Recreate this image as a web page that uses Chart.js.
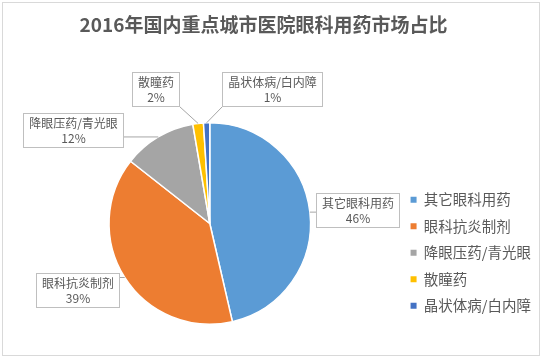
<!DOCTYPE html>
<html>
<head>
<meta charset="utf-8">
<script src="https://cdn.jsdelivr.net/npm/chart.js@4.4.1/dist/chart.umd.min.js"></script>
<style>
  body { margin: 0; background: #fff; }
  #myChart { display: block; }
</style>
</head>
<body>
<canvas id="myChart" width="542" height="359"></canvas>
<script>
const titleText = '2016年国内重点城市医院眼科用药市场占比';
const categories = ['其它眼科用药', '眼科抗炎制剂', '降眼压药/青光眼', '散瞳药', '晶状体病/白内障'];
const shares = [46.4, 39.2, 11.7, 1.7, 1.0];
const colors = ['#5B9BD5', '#ED7D31', '#A5A5A5', '#FFC000', '#4472C4'];

// where the callout boxes sit: turn away from the slice middle (deg) and distance in radii
const calloutTurn = [1.3, 5.8, -24.9, -15.5, 26.5];
const calloutDist = [1.47, 1.47, 1.64, 1.44, 1.47];

const fontFamily = '"Noto Sans CJK SC", "Noto Sans", sans-serif';
const textGrey = '#595959';


// white sheet, thin frame, and the title centred over the whole frame like Excel does
const frame = {
    id: 'frame',
    beforeDraw(chart) {
        const c = chart.ctx;
        c.save();
        c.fillStyle = '#fff';
        c.fillRect(0, 0, chart.width, chart.height);
        c.strokeStyle = '#D9D9D9';
        c.lineWidth = 1;
        c.strokeRect(2.5, 2.5, chart.width - 5, chart.height - 6);
        c.fillStyle = textGrey;
        c.font = 'bold 19px ' + fontFamily;
        c.textAlign = 'center';
        c.textBaseline = 'middle';
        c.fillText(titleText, 263.5, 25);
        c.restore();
    }
};

const callouts = {
    id: 'callouts',
    afterDatasetsDraw(chart) {
        const c = chart.ctx;
        const total = shares.reduce((a, b) => a + b, 0);
        c.save();
        c.font = '12px ' + fontFamily;
        chart.getDatasetMeta(0).data.forEach((arc, i) => {
            const p = arc.getProps(['x', 'y', 'startAngle', 'endAngle', 'outerRadius'], true);
            const mid = (p.startAngle + p.endAngle) / 2;
            const edgeX = p.x + Math.cos(mid) * p.outerRadius;
            const edgeY = p.y + Math.sin(mid) * p.outerRadius;
            const a = mid + calloutTurn[i] * Math.PI / 180;
            const cx = p.x + Math.cos(a) * p.outerRadius * calloutDist[i];
            const cy = p.y + Math.sin(a) * p.outerRadius * calloutDist[i];

            const line1 = categories[i];
            const line2 = Math.round(shares[i] / total * 100) + '%';
            const w = Math.round(Math.max(c.measureText(line1).width, c.measureText(line2).width) + 11);
            const h = 34;
            const left = Math.round(cx - w / 2) + 0.5;
            const top = Math.round(cy - h / 2) + 0.5;

            // leader line from slice edge to the closest point of the box
            const nx = Math.min(Math.max(edgeX, left), left + w);
            const ny = Math.min(Math.max(edgeY, top), top + h);
            c.strokeStyle = '#A6A6A6';
            c.lineWidth = 1;
            c.beginPath();
            c.moveTo(nx, ny);
            c.lineTo(edgeX, edgeY);
            c.stroke();

            c.fillStyle = '#fff';
            c.fillRect(left, top, w, h);
            c.strokeStyle = '#BFBFBF';
            c.strokeRect(left, top, w, h);

            c.fillStyle = textGrey;
            c.textAlign = 'center';
            c.textBaseline = 'middle';
            c.fillText(line1, left + w / 2, top + 10);
            c.fillText(line2, left + w / 2, top + 25);
        });
        c.restore();
    }
};

var ctx = document.getElementById('myChart').getContext('2d');

const data = {
    labels: categories,
    datasets: [{
        data: shares,
        backgroundColor: colors,
        borderColor: '#fff',
        borderWidth: 1.5,
        hoverOffset: 0
    }]
};

const options = {
    responsive: false,
    animation: false,
    layout: {
        padding: { left: 21, right: 1, top: 122, bottom: 34 }
    },
    plugins: {
        title: { display: false },
        legend: {
            position: 'right',
            align: 'end',
            labels: {
                boxWidth: 6,
                boxHeight: 6,
                padding: 12,
                color: textGrey,
                font: { family: fontFamily, size: 14.5 },
                generateLabels(chart) {
                    return Chart.overrides.doughnut.plugins.legend.labels.generateLabels(chart)
                        .map(item => ({ ...item, strokeStyle: item.fillStyle, lineWidth: 0 }));
                }
            }
        },
        tooltip: { enabled: false }
    }
};

var myPieChart = new Chart(ctx, {
    type: 'pie',
    data: data,
    options: options,
    plugins: [frame, callouts]
});
</script>
</body>
</html>
